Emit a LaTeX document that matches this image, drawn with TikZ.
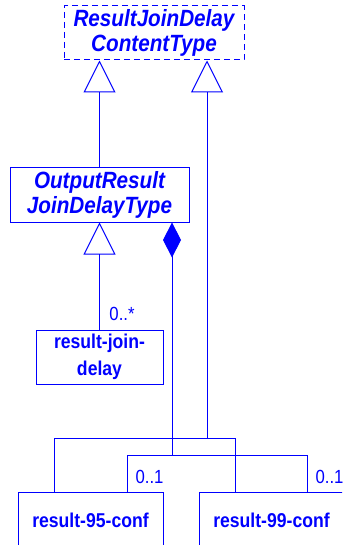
\documentclass[tikz,border=0pt]{standalone}
\usepackage{fontspec}
\setmainfont{Liberation Sans}[FakeStretch=0.88]
\usetikzlibrary{arrows.meta}
\begin{document}
\begin{tikzpicture}[x=1pt,y=-1pt,
  every node/.style={text=blue},
  box/.style={draw=blue,line width=1pt,inner sep=0pt,align=center,
    font=\fontsize{20}{26.5}\selectfont\bfseries},
  abox/.style={box,font=\fontsize{23.5}{25}\selectfont\bfseries\itshape},
  conn/.style={draw=blue,line width=1pt},
  gen/.style={conn,-{Triangle[open,length=32pt,width=32pt,line width=1pt]}},
  comp/.style={conn,-{Diamond[length=35pt,width=18pt,fill=blue]}},
  mult/.style={inner sep=0pt,font=\fontsize{19}{22}\selectfont}]
\useasboundingbox (0,0) rectangle (342,545);
\clip (0,0) rectangle (342,545);
\node[abox,dash pattern=on 6pt off 4pt,minimum width=180pt,minimum height=54pt] (top) at (154,33) {ResultJoinDelay\\ContentType};
\node[abox,minimum width=179pt,minimum height=54pt] (out) at (99.5,195) {OutputResult\\JoinDelayType};
\node[box,minimum width=127pt,minimum height=54pt] (rjd) at (99.5,357) {result-join-\\delay};
\node[box,minimum width=145pt,minimum height=56pt] (r95) at (90.5,520) {result-95-conf};
\node[box,minimum width=145pt,minimum height=56pt] (r99) at (271.5,520) {result-99-conf};
% generalization out -> top
\draw[gen] (out.north) -- (out.north |- top.south);
% generalization of element group -> top
\coordinate (g) at (207,438);
\coordinate (b1) at (54,438);
\coordinate (b2) at (235,438);
\draw[gen] (g) -- (g |- top.south);
\draw[conn] (r95.north -| b1) -- (b1) -- (b2) -- (r99.north -| b2);
% result-join-delay -> out
\draw[gen] (rjd.north) -- (rjd.north |- out.south);
\node[mult] (m1) at (122,314) {0..*};
% composition
\coordinate (c) at (172,455);
\coordinate (c1) at (127,455);
\coordinate (c2) at (307,455);
\draw[comp] (c) -- (c |- out.south);
\draw[conn] (r95.north -| c1) -- (c1) -- (c2) -- (r99.north -| c2);
\node[mult] (m2) at (149.5,477) {0..1};
\node[mult] (m3) at (329.5,477) {0..1};
\end{tikzpicture}
\end{document}
